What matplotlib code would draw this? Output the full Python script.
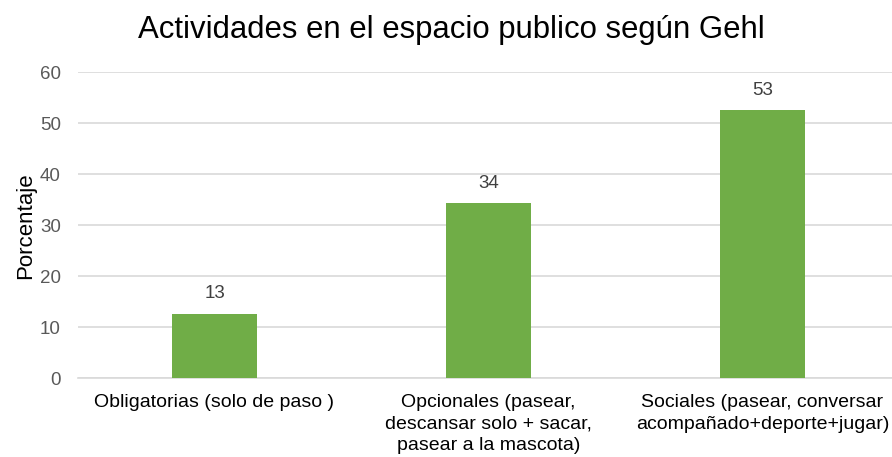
import numpy as np
import matplotlib.pyplot as plt

plt.rcParams['font.family'] = ['Liberation Sans', 'DejaVu Sans']

# Datos de la encuesta (porcentaje por tipo de actividad)
categorias = ['Obligatorias (solo de paso )',
              'Opcionales (pasear,\ndescansar solo + sacar,\npasear a la mascota)',
              'Sociales (pasear, conversar\nacompañado+deporte+jugar)']
porcentajes = [12.7, 34.3, 52.6]
marcas_y = [0, 10, 20, 30, 40, 50, 60]

verde = '#70AD47'
gris_grilla = '#D9D9D9'

fig = plt.figure(figsize=(8.92, 4.57), dpi=100)
ax = fig.add_axes([77.5 / 892, 78.7 / 457, 822 / 892, 306 / 457])

x = np.arange(len(categorias))
barras = ax.bar(x, porcentajes, width=0.31, color=verde, zorder=3)

# Etiquetas de valor encima de cada barra
for xi, val in zip(x, porcentajes):
    ax.annotate(f'{val:.0f}', (xi, val), xytext=(0, 11), textcoords='offset points',
                ha='center', va='baseline', fontsize=13.5, color='#404040')

ax.set_xlim(-0.5, 2.5)
ax.set_ylim(0, 60)
ax.set_yticks(marcas_y)
ax.yaxis.grid(True, color=gris_grilla, linewidth=1.2, zorder=0)
ax.set_axisbelow(True)

for lado in ['top', 'right', 'left']:
    ax.spines[lado].set_visible(False)
ax.spines['bottom'].set_color(gris_grilla)
ax.spines['bottom'].set_linewidth(1.2)

ax.set_xticks(x)
ax.set_xticklabels(categorias, fontsize=14, color='black', linespacing=1.38)
ax.tick_params(axis='x', length=0, pad=11)
ax.tick_params(axis='y', length=0, pad=12, labelsize=13.5, labelcolor='#595959')

ax.set_ylabel('Porcentaje', fontsize=16, color='black', labelpad=3)

fig.text(451 / 892, 1 - 38 / 457, 'Actividades en el espacio publico según Gehl',
         ha='center', va='baseline', fontsize=22.4, color='black')

fig.savefig('out.png', dpi=100)
